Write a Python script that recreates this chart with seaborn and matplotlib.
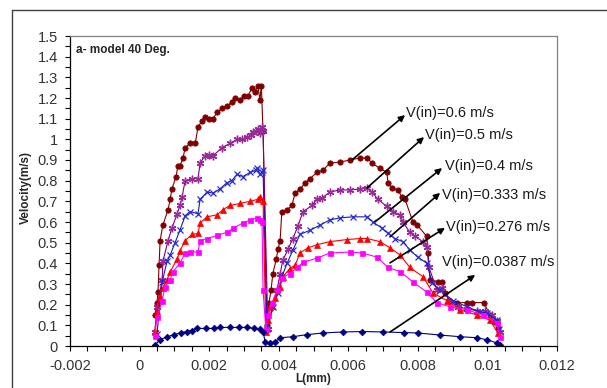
import matplotlib
matplotlib.use("Agg")
import matplotlib.pyplot as plt
from matplotlib.lines import Line2D
from matplotlib.ticker import MultipleLocator, FixedLocator, FixedFormatter
import seaborn as sns
import pandas as pd

# ---------------- data ----------------
x_06 = [0.00044, 0.00050, 0.00053, 0.00056, 0.00059, 0.00067, 0.00082, 0.00088, 0.00093, 0.00105,
        0.00110, 0.00116, 0.00125, 0.00131, 0.00145, 0.00160, 0.00168, 0.00180, 0.00188, 0.00200,
        0.00211, 0.00223, 0.00237, 0.00251, 0.00265, 0.00274, 0.00289, 0.00300, 0.00312, 0.00323,
        0.00332, 0.00340, 0.00346, 0.00350, 0.00355,
        0.00366, 0.00372, 0.00378, 0.00383, 0.00393, 0.00398, 0.00404, 0.00409, 0.00424, 0.00438,
        0.00447, 0.00462, 0.00476, 0.00490, 0.00510, 0.00527, 0.00547, 0.00576, 0.00605, 0.00634,
        0.00654, 0.00668, 0.00691, 0.00711, 0.00714, 0.00726, 0.00743, 0.00754, 0.00763, 0.00786,
        0.00798, 0.00826, 0.00829, 0.00835, 0.00858, 0.00869, 0.00878, 0.00892, 0.00912, 0.00941,
        0.00956, 0.00990, 0.01007, 0.01022, 0.01030]
y_06 = [0.15, 0.21, 0.26, 0.39, 0.51, 0.585, 0.66, 0.71, 0.76, 0.82,
        0.87, 0.87, 0.91, 0.96, 0.98, 0.98, 1.06, 1.09, 1.11, 1.10,
        1.10, 1.13, 1.15, 1.16, 1.18, 1.20, 1.19, 1.21, 1.21, 1.25,
        1.23, 1.26, 1.19, 1.26, 1.04,
        0.10, 0.21, 0.27, 0.35, 0.42, 0.47, 0.51, 0.65, 0.66, 0.68,
        0.74, 0.76, 0.79, 0.81, 0.84, 0.85, 0.885, 0.89, 0.90, 0.91,
        0.91, 0.885, 0.86, 0.84, 0.79, 0.765, 0.755, 0.72, 0.71, 0.60,
        0.585, 0.53, 0.45, 0.32, 0.31, 0.31, 0.255, 0.22, 0.21, 0.21,
        0.21, 0.21, 0.15, 0.115, 0.087]

x_05 = [0.00044, 0.00050, 0.00065, 0.00067, 0.00082, 0.00093, 0.00108, 0.00116, 0.00122, 0.00131,
        0.00150, 0.00168, 0.00174, 0.00188, 0.00200, 0.00211, 0.00237, 0.00260, 0.00280, 0.00295,
        0.00309, 0.00320, 0.00326, 0.00334, 0.00340, 0.00346, 0.00352, 0.00355,
        0.00369, 0.00381, 0.00395, 0.00404, 0.00412, 0.00427, 0.00441, 0.00455, 0.00470, 0.00496,
        0.00510, 0.00524, 0.00547, 0.00576, 0.00605, 0.00634, 0.00654, 0.00668, 0.00685, 0.00711,
        0.00729, 0.00749, 0.00757, 0.00777, 0.00792, 0.00815, 0.00826, 0.00832, 0.00855, 0.00869,
        0.00890, 0.00915, 0.00941, 0.00970, 0.00993, 0.01013, 0.01028, 0.01035]
y_05 = [0.07, 0.19, 0.32, 0.41, 0.51, 0.57, 0.64, 0.68, 0.72, 0.80,
        0.81, 0.81, 0.885, 0.92, 0.925, 0.92, 0.96, 0.98, 1.00, 1.00,
        1.01, 1.02, 1.035, 1.04, 1.05, 1.03, 1.06, 1.04,
        0.08, 0.19, 0.27, 0.35, 0.415, 0.47, 0.52, 0.58, 0.65, 0.68,
        0.71, 0.715, 0.745, 0.755, 0.755, 0.76, 0.765, 0.745, 0.71, 0.675,
        0.65, 0.635, 0.60, 0.55, 0.53, 0.505, 0.48, 0.38, 0.27, 0.28,
        0.22, 0.19, 0.18, 0.17, 0.17, 0.15, 0.12, 0.07]

x_04 = [0.00050, 0.00065, 0.00079, 0.00088, 0.00102, 0.00116, 0.00131, 0.00145, 0.00168, 0.00174,
        0.00194, 0.00211, 0.00231, 0.00251, 0.00265, 0.00280, 0.00297, 0.00318, 0.00334, 0.00338,
        0.00346, 0.00352, 0.00355,
        0.00366, 0.00384, 0.00398, 0.00409, 0.00424, 0.00441, 0.00461, 0.00490, 0.00519, 0.00547,
        0.00576, 0.00613, 0.00654, 0.00671, 0.00697, 0.00714, 0.00734, 0.00757, 0.00777, 0.00800,
        0.00826, 0.00841, 0.00864, 0.00901, 0.00941, 0.00979, 0.00999, 0.01027, 0.01033]
y_04 = [0.06, 0.31, 0.41, 0.44, 0.50, 0.56, 0.63, 0.65, 0.64, 0.71,
        0.745, 0.74, 0.76, 0.79, 0.80, 0.83, 0.82, 0.84, 0.85, 0.86,
        0.83, 0.84, 0.85,
        0.08, 0.19, 0.255, 0.335, 0.40, 0.465, 0.54, 0.56, 0.585, 0.61,
        0.62, 0.625, 0.625, 0.60, 0.57, 0.545, 0.52, 0.505, 0.465, 0.43,
        0.40, 0.305, 0.27, 0.22, 0.19, 0.165, 0.16, 0.125, 0.08]

x_0333 = [0.00044, 0.00050, 0.00059, 0.00067, 0.00079, 0.00088, 0.00108, 0.00116, 0.00131, 0.00151,
          0.00168, 0.00174, 0.00194, 0.00223, 0.00240, 0.00260, 0.00289, 0.00318, 0.00340, 0.00346,
          0.00355,
          0.00363, 0.00369, 0.00375, 0.00389, 0.00404, 0.00412, 0.00432, 0.00447, 0.00461, 0.00484,
          0.00510, 0.00547, 0.00596, 0.00634, 0.00654, 0.00691, 0.00720, 0.00749, 0.00777, 0.00815,
          0.00844, 0.00884, 0.00921, 0.00970, 0.01007, 0.01030]
y_0333 = [0.07, 0.17, 0.24, 0.28, 0.32, 0.36, 0.42, 0.46, 0.51, 0.54,
          0.545, 0.595, 0.625, 0.635, 0.66, 0.68, 0.69, 0.70, 0.71, 0.72,
          0.70,
          0.07, 0.125, 0.19, 0.23, 0.285, 0.335, 0.375, 0.39, 0.45, 0.475,
          0.49, 0.505, 0.515, 0.52, 0.52, 0.505, 0.475, 0.44, 0.38, 0.335,
          0.255, 0.22, 0.175, 0.15, 0.125, 0.063]

x_0276 = [0.00044, 0.00050, 0.00065, 0.00073, 0.00088, 0.00096, 0.00116, 0.00131, 0.00145, 0.00168,
          0.00174, 0.00194, 0.00223, 0.00251, 0.00269, 0.00297, 0.00318, 0.00338, 0.00346, 0.00352,
          0.00355,
          0.00363, 0.00369, 0.00381, 0.00395, 0.00409, 0.00432, 0.00453, 0.00470, 0.00510, 0.00547,
          0.00605, 0.00640, 0.00683, 0.00714, 0.00749, 0.00786, 0.00826, 0.00855, 0.00892, 0.00941,
          0.00987, 0.01027, 0.01036]
y_0276 = [0.05, 0.14, 0.22, 0.285, 0.32, 0.36, 0.40, 0.45, 0.455, 0.455,
          0.51, 0.52, 0.535, 0.55, 0.57, 0.595, 0.61, 0.62, 0.61, 0.60,
          0.27,
          0.08, 0.15, 0.21, 0.27, 0.33, 0.35, 0.38, 0.405, 0.425, 0.45,
          0.455, 0.45, 0.43, 0.38, 0.36, 0.31, 0.26, 0.21, 0.19, 0.175,
          0.15, 0.11, 0.045]

x_00387 = [0.00044, 0.00059, 0.00079, 0.00100, 0.00120, 0.00137, 0.00150, 0.00165, 0.00190, 0.00215,
           0.00231, 0.00260, 0.00285, 0.00309, 0.00330, 0.00346, 0.00355,
           0.00361, 0.00375, 0.00390, 0.00404, 0.00441, 0.00481, 0.00527, 0.00585, 0.00640, 0.00700,
           0.00760, 0.00800, 0.00864, 0.00921, 0.00970, 0.00999, 0.01027, 0.01036]
y_00387 = [0.005, 0.03, 0.045, 0.055, 0.065, 0.07, 0.075, 0.085, 0.085, 0.085,
           0.09, 0.09, 0.09, 0.09, 0.085, 0.08, 0.07,
           0.02, 0.015, 0.02, 0.04, 0.045, 0.055, 0.063, 0.068, 0.07, 0.068,
           0.065, 0.063, 0.053, 0.045, 0.04, 0.03, 0.015, 0.005]

series_labels = ["V(in)=0.6 m/s", "V(in)=0.5 m/s", "V(in)=0.4 m/s",
                 "V(in)=0.333 m/s", "V(in)=0.276 m/s", "V(in)=0.0387 m/s"]
xticks = [-0.002, 0, 0.002, 0.004, 0.006, 0.008, 0.01, 0.012]
xtick_labels = ["-0.002", "0", "0.002", "0.004", "0.006", "0.008", "0.01", "0.012"]
yticks = [0, 0.1, 0.2, 0.3, 0.4, 0.5, 0.6, 0.7, 0.8, 0.9, 1.0, 1.1, 1.2, 1.3, 1.4, 1.5]
ytick_labels = ["0", "0.1", "0.2", "0.3", "0.4", "0.5", "0.6", "0.7", "0.8", "0.9",
                "1", "1.1", "1.2", "1.3", "1.4", "1.5"]
title_text = "a- model 40 Deg."
xlabel_text = "L(mm)"
ylabel_text = "Velocity(m/s)"

# ---------------- styling ----------------
sns.set_style("white")
plt.rcParams['font.family'] = ['Liberation Sans', 'DejaVu Sans']

fig = plt.figure(figsize=(6.07, 3.88), dpi=100)
ax = fig.add_axes([70/607, 42/388, 487/607, 310/388])

styles = [
    dict(color="#800000", marker="o", ms=3.8, mec="#800000", mfc="#800000", mew=0.6),
    dict(color="#800080", marker=(6, 2, 0), ms=5.5, mec="#9a2a9a", mfc="none", mew=1.0),
    dict(color="#1a1aa8", marker="x", ms=4.0, mec="#2a2ad8", mfc="none", mew=0.9),
    dict(color="#ff0000", marker="^", ms=4.8, mec="#ff0000", mfc="#ff0000", mew=0.5),
    dict(color="#ff00ff", marker="s", ms=3.6, mec="#ff00ff", mfc="#ff00ff", mew=0.5),
    dict(color="#000080", marker="D", ms=3.4, mec="#000080", mfc="#000080", mew=0.5),
]
xs = [x_06, x_05, x_04, x_0333, x_0276, x_00387]
ys = [y_06, y_05, y_04, y_0333, y_0276, y_00387]

for xv, yv, lab, st in zip(xs, ys, series_labels, styles):
    df = pd.DataFrame({"L": xv, "V": yv})
    sns.lineplot(data=df, x="L", y="V", ax=ax, sort=False, estimator=None,
                 color=st["color"], marker=st["marker"], markersize=st["ms"],
                 markeredgecolor=st["mec"], markerfacecolor=st["mfc"],
                 markeredgewidth=st["mew"], linewidth=0.8, legend=False)

ax.set_xlim(-0.002, 0.012)
ax.set_ylim(0, 1.5)
ax.xaxis.set_major_locator(FixedLocator(xticks))
ax.xaxis.set_major_formatter(FixedFormatter(xtick_labels))
ax.yaxis.set_major_locator(FixedLocator(yticks))
ax.yaxis.set_major_formatter(FixedFormatter(ytick_labels))
ax.xaxis.set_minor_locator(MultipleLocator(0.0005))
ax.yaxis.set_minor_locator(MultipleLocator(0.05))

ax.tick_params(axis='both', which='both', direction='out', length=3.6, width=0.8,
               color='black', bottom=True, left=True, top=False, right=False)
ax.tick_params(axis='both', which='major', labelsize=10.5, labelcolor='#333333')
ax.tick_params(axis='x', which='major', pad=6)
ax.tick_params(axis='y', which='major', pad=5)

for s in ['left', 'bottom']:
    ax.spines[s].set_color('black')
    ax.spines[s].set_linewidth(0.9)
for s in ['top', 'right']:
    ax.spines[s].set_color('#808080')
    ax.spines[s].set_linewidth(0.9)

ax.set_xlabel(xlabel_text, fontsize=8.5, fontweight='bold')
ax.set_ylabel(ylabel_text, fontsize=8.5, fontweight='bold')
ax.xaxis.set_label_coords(0.5, -0.106)
ax.yaxis.label.set_va('center')
ax.xaxis.label.set_va('center')
ax.yaxis.set_label_coords(-0.0903, 0.51)

ax.text(0.012, 0.955, title_text, transform=ax.transAxes, fontsize=8.5,
        fontweight='bold', ha='left', va='center')

# annotations (axes fraction): tail on curve, head at label
ann = [
    ((0.579, 0.600), (0.688, 0.745), (0.690, 0.752)),
    ((0.610, 0.510), (0.727, 0.674), (0.729, 0.681)),
    ((0.626, 0.400), (0.764, 0.574), (0.770, 0.581)),
    ((0.657, 0.352), (0.760, 0.494), (0.764, 0.487)),
    ((0.657, 0.268), (0.770, 0.381), (0.772, 0.384)),
    ((0.657, 0.045), (0.832, 0.229), (0.764, 0.271)),
]
for lab, (tail, head, tpos) in zip(series_labels, ann):
    ax.annotate("", xy=head, xytext=tail, xycoords='axes fraction',
                textcoords='axes fraction',
                arrowprops=dict(arrowstyle='-|>', color='black', lw=1.2,
                                mutation_scale=9, shrinkA=0, shrinkB=0))
    ax.text(tpos[0], tpos[1], lab, transform=ax.transAxes, fontsize=10.5,
            ha='left', va='center', color='#1a1a1a')

# outer chart frame (left and top edges visible)
fig.add_artist(Line2D([12/607, 12/607], [0, 1 - 10/388], transform=fig.transFigure,
                      color='#404040', lw=1.0))
fig.add_artist(Line2D([12/607, 1], [1 - 10/388, 1 - 10/388], transform=fig.transFigure,
                      color='#404040', lw=1.0))

fig.savefig("out.png", dpi=100)
